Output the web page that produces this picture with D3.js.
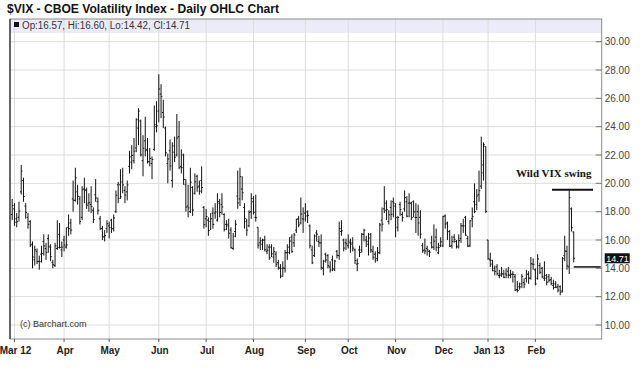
<!DOCTYPE html>
<html>
<head>
<meta charset="utf-8">
<script src="https://cdn.jsdelivr.net/npm/d3@7"></script>
<style>
  body { margin: 0; background: #fff; }
  svg { display: block; font-family: "Liberation Sans", Arial, sans-serif; }
</style>
</head>
<body>
<svg id="chart" width="640" height="375"></svg>
<script>
// daily bars: [day of month, open, high, low, close]
const feb12 = [[29, 17.8, 18.9, 17.4, 18.43]];
const mar12 = [
  [1, 18.2, 18.6, 17.0, 17.26], [2, 17.5, 17.9, 16.9, 17.29], [5, 17.6, 18.7, 17.3, 18.05],
  [6, 19.4, 21.3, 19.2, 20.87], [7, 20.2, 20.4, 18.7, 19.07], [8, 18.4, 18.6, 17.5, 17.95],
  [9, 17.6, 17.9, 16.8, 17.11], [12, 17.3, 17.4, 15.5, 15.64], [13, 15.7, 15.9, 14.0, 14.80],
  [14, 14.6, 15.6, 14.2, 15.31], [15, 15.2, 15.4, 14.3, 14.47], [16, 14.5, 14.9, 13.9, 14.47],
  [19, 15.0, 15.6, 14.4, 15.04], [20, 15.9, 16.4, 14.9, 15.58], [21, 15.4, 15.8, 14.6, 15.13],
  [22, 16.1, 16.4, 15.1, 15.57], [23, 15.5, 15.7, 14.5, 14.82], [26, 14.4, 14.6, 14.0, 14.26],
  [27, 14.2, 15.8, 14.1, 15.59], [28, 15.4, 17.4, 15.3, 15.47], [29, 16.4, 17.2, 15.4, 15.48],
  [30, 15.3, 15.9, 14.8, 15.50]
];
const apr12 = [
  [2, 16.0, 16.3, 15.2, 15.64], [3, 15.5, 16.9, 15.4, 15.66], [4, 16.9, 17.8, 16.3, 16.80],
  [5, 17.2, 17.5, 16.4, 16.70], [9, 18.9, 20.2, 18.0, 18.81], [10, 18.8, 21.1, 18.7, 20.39],
  [11, 19.4, 19.9, 18.5, 19.08], [12, 18.9, 19.1, 17.1, 17.30], [13, 17.6, 19.8, 17.4, 19.55],
  [16, 19.6, 20.4, 18.6, 19.55], [17, 19.5, 19.7, 18.2, 18.46], [18, 18.6, 19.3, 18.0, 18.64],
  [19, 18.5, 19.8, 17.9, 18.36], [20, 18.1, 18.3, 17.2, 17.44], [23, 19.2, 20.3, 18.7, 18.97],
  [24, 18.7, 19.0, 17.8, 18.10], [25, 17.5, 17.7, 16.7, 16.82], [26, 16.8, 17.0, 16.0, 16.24],
  [27, 16.2, 16.7, 15.9, 16.32], [30, 16.8, 17.4, 16.5, 17.15]
];
const may12 = [
  [1, 17.0, 17.3, 16.1, 16.88], [2, 17.4, 17.5, 16.5, 16.80], [3, 16.8, 17.8, 16.6, 17.56],
  [4, 18.0, 19.5, 17.9, 19.16], [7, 19.9, 20.1, 18.6, 18.94], [8, 19.9, 21.0, 18.9, 19.05],
  [9, 20.1, 21.1, 19.3, 19.89], [10, 19.5, 19.8, 18.6, 19.17], [11, 19.4, 20.2, 18.8, 19.89],
  [14, 21.2, 22.3, 20.7, 21.87], [15, 21.5, 22.7, 21.0, 21.97], [16, 21.6, 23.2, 21.4, 22.27],
  [17, 22.5, 24.6, 22.2, 24.49], [18, 23.9, 25.3, 22.7, 25.10], [21, 24.4, 24.5, 21.9, 22.01],
  [22, 21.6, 23.4, 20.5, 22.48], [23, 23.0, 24.7, 21.9, 22.33], [24, 22.4, 23.2, 21.4, 21.54],
  [25, 21.5, 22.5, 21.2, 21.76], [29, 21.4, 21.9, 20.3, 21.68], [30, 22.4, 25.5, 22.3, 24.14],
  [31, 24.0, 25.8, 23.6, 24.06]
];
const jun12 = [
  [1, 25.1, 27.7, 24.3, 26.66], [4, 26.3, 27.0, 24.6, 26.12], [5, 25.0, 25.9, 23.9, 24.68],
  [6, 23.9, 24.0, 21.9, 22.16], [7, 21.4, 22.1, 20.0, 21.72], [8, 22.3, 23.1, 20.9, 21.23],
  [11, 20.2, 22.9, 19.7, 22.64], [12, 22.2, 23.3, 21.5, 21.85], [13, 22.0, 24.9, 21.9, 23.20],
  [14, 23.3, 24.4, 21.0, 21.11], [15, 21.2, 22.4, 20.7, 21.11], [18, 22.0, 22.1, 19.9, 20.27],
  [19, 19.9, 20.3, 18.0, 18.32], [20, 18.4, 19.9, 17.6, 18.27], [21, 18.0, 21.1, 17.9, 20.08],
  [22, 19.7, 19.8, 17.7, 18.11], [25, 19.3, 20.7, 19.2, 20.11], [26, 20.5, 20.6, 19.4, 19.72],
  [27, 19.8, 20.2, 19.2, 19.45], [28, 20.2, 21.2, 19.3, 19.71], [29, 18.3, 18.4, 16.8, 17.08]
];
const jul12 = [
  [2, 17.5, 18.2, 16.9, 17.66], [3, 17.4, 17.6, 16.3, 16.66], [5, 17.3, 17.9, 16.7, 17.50],
  [6, 17.9, 18.3, 16.8, 17.10], [9, 17.9, 18.6, 17.5, 17.98], [10, 17.4, 19.3, 17.3, 18.72],
  [11, 18.6, 18.9, 17.6, 17.95], [12, 18.5, 19.3, 17.8, 18.33], [13, 17.8, 17.9, 16.6, 16.74],
  [16, 17.1, 17.4, 16.7, 17.11], [17, 17.0, 17.5, 16.1, 16.48], [18, 16.7, 16.9, 15.4, 15.45],
  [19, 15.4, 16.5, 15.3, 16.27], [20, 16.6, 17.4, 16.2, 17.11], [23, 19.1, 20.9, 18.2, 18.62],
  [24, 18.9, 21.1, 18.4, 20.47], [25, 19.6, 20.5, 18.8, 19.34], [26, 18.3, 18.6, 16.8, 17.53],
  [27, 17.3, 17.5, 16.3, 16.70], [30, 17.0, 18.1, 16.9, 17.94], [31, 18.0, 19.3, 17.5, 18.93]
];
const aug12 = [
  [1, 18.7, 19.1, 17.8, 17.96], [2, 17.6, 19.2, 17.3, 17.57], [3, 16.9, 16.9, 15.4, 15.64],
  [6, 15.8, 16.2, 15.3, 15.95], [7, 15.7, 16.1, 15.3, 15.99], [8, 16.0, 16.3, 15.2, 15.32],
  [9, 15.2, 15.7, 15.0, 15.28], [10, 15.5, 15.7, 14.6, 14.74], [13, 15.5, 15.7, 14.8, 15.02],
  [14, 14.8, 15.5, 14.4, 15.18], [15, 15.0, 15.2, 14.1, 14.29], [16, 14.4, 14.6, 13.9, 14.07],
  [17, 14.0, 14.3, 13.3, 13.45], [20, 14.0, 14.5, 13.4, 14.02], [21, 14.0, 15.3, 13.7, 15.10],
  [22, 15.1, 15.7, 14.6, 15.11], [23, 15.5, 16.2, 15.0, 15.93], [24, 16.2, 16.4, 15.1, 15.18],
  [27, 15.8, 16.5, 15.5, 16.35], [28, 16.7, 17.5, 16.5, 17.46], [29, 17.5, 17.7, 16.9, 17.06],
  [30, 17.2, 19.0, 17.1, 17.83], [31, 17.5, 18.3, 16.5, 17.47]
];
const sep12 = [
  [4, 17.9, 18.6, 17.3, 17.98], [5, 17.7, 18.1, 17.2, 17.74], [6, 17.0, 17.1, 15.4, 15.60],
  [7, 15.3, 15.6, 14.3, 14.38], [10, 14.9, 16.4, 14.8, 16.28], [11, 16.5, 16.7, 15.9, 16.41],
  [12, 15.9, 16.3, 15.5, 15.80], [13, 15.8, 16.4, 13.9, 14.05], [14, 14.0, 14.6, 13.5, 14.51],
  [17, 15.0, 15.1, 14.4, 14.59], [18, 14.9, 15.0, 14.0, 14.18], [19, 14.1, 14.5, 13.7, 13.88],
  [20, 14.6, 14.9, 13.8, 13.98], [21, 13.9, 14.6, 13.8, 14.51], [24, 15.2, 15.3, 14.7, 14.92],
  [25, 14.9, 17.3, 14.6, 16.81], [26, 16.6, 17.4, 16.3, 16.65], [27, 16.0, 16.1, 15.2, 15.43],
  [28, 15.8, 16.1, 15.3, 15.73]
];
const oct12 = [
  [1, 15.6, 16.4, 15.4, 15.92], [2, 15.8, 16.1, 15.1, 15.71], [3, 15.8, 16.2, 15.2, 15.43],
  [4, 15.3, 15.4, 14.3, 14.55], [5, 14.3, 14.7, 13.8, 14.33], [8, 15.3, 15.6, 14.8, 15.12],
  [9, 15.3, 16.5, 15.1, 16.41], [10, 16.4, 16.8, 15.9, 16.69], [11, 16.0, 16.3, 15.5, 15.91],
  [12, 15.7, 16.5, 14.9, 16.14], [15, 16.4, 16.5, 15.1, 15.30], [16, 15.2, 15.6, 14.6, 14.78],
  [17, 15.0, 15.2, 14.4, 14.58], [18, 14.7, 15.5, 14.5, 15.10], [19, 15.1, 17.2, 15.0, 17.06],
  [22, 17.4, 18.3, 16.6, 17.12], [23, 18.2, 19.8, 17.9, 18.60], [24, 18.1, 18.8, 17.4, 18.14],
  [25, 17.3, 18.1, 17.1, 17.78], [26, 18.3, 18.8, 17.4, 17.81], [31, 18.7, 19.0, 17.6, 18.60]
];
const nov12 = [
  [1, 18.4, 18.6, 16.2, 17.58], [2, 16.9, 17.7, 16.6, 17.59], [5, 18.5, 18.7, 17.7, 18.15],
  [6, 17.8, 18.0, 17.3, 17.58], [7, 18.2, 19.5, 18.0, 18.99], [8, 18.7, 19.1, 17.6, 17.68],
  [9, 18.6, 19.3, 17.6, 18.61], [12, 18.6, 18.7, 17.4, 17.58], [13, 18.7, 18.8, 17.6, 17.99],
  [14, 17.6, 18.6, 16.5, 17.59], [15, 18.0, 18.5, 16.3, 17.20], [16, 17.6, 18.1, 16.1, 16.41],
  [19, 15.6, 15.8, 15.1, 15.24], [20, 15.3, 16.1, 15.0, 15.22], [21, 15.4, 15.6, 14.9, 15.31],
  [23, 15.2, 15.3, 14.8, 15.14], [26, 15.8, 16.3, 15.4, 15.50], [27, 15.5, 17.1, 15.3, 15.92],
  [28, 16.2, 16.8, 15.2, 15.48], [29, 15.1, 15.8, 15.0, 15.47], [30, 15.6, 16.2, 15.5, 15.87]
];
const dec12 = [
  [3, 15.6, 17.7, 15.5, 17.67], [4, 17.7, 17.8, 16.8, 17.12], [5, 17.2, 17.3, 16.0, 16.58],
  [6, 16.6, 16.7, 15.5, 15.56], [7, 15.6, 16.3, 15.4, 15.90], [10, 16.2, 16.4, 15.8, 16.05],
  [11, 15.9, 16.0, 15.4, 15.57], [12, 15.5, 16.4, 15.4, 15.95], [13, 16.1, 17.2, 15.8, 17.00],
  [14, 17.0, 17.5, 16.5, 17.00], [17, 17.6, 17.7, 16.3, 16.34], [18, 16.1, 16.3, 15.5, 15.57],
  [19, 15.6, 17.4, 15.5, 17.36], [20, 17.5, 18.3, 16.9, 17.67], [21, 18.7, 20.0, 17.9, 18.00],
  [24, 18.5, 19.6, 18.1, 19.11], [26, 19.2, 20.9, 18.7, 19.48], [27, 19.8, 23.3, 19.6, 20.74],
  [28, 21.3, 22.9, 20.2, 22.72], [31, 22.6, 22.6, 17.9, 18.02]
];
const jan13 = [
  [2, 16.0, 16.0, 14.6, 14.68], [3, 14.6, 15.1, 14.1, 14.56], [4, 14.3, 14.6, 13.8, 13.83],
  [7, 14.0, 14.2, 13.5, 13.79], [8, 14.1, 14.3, 13.5, 13.62], [9, 13.5, 13.9, 13.3, 13.49],
  [10, 13.6, 14.1, 13.4, 13.61], [11, 13.6, 13.9, 13.3, 13.36], [14, 13.6, 14.0, 13.3, 13.52],
  [15, 13.8, 14.1, 13.3, 13.55], [16, 13.5, 13.9, 13.3, 13.57], [17, 13.6, 13.8, 13.0, 13.57],
  [18, 13.4, 13.6, 12.4, 12.46], [22, 12.5, 13.1, 12.3, 12.43], [23, 12.7, 13.0, 12.5, 12.69],
  [24, 12.9, 13.6, 12.6, 13.43], [25, 13.0, 13.3, 12.6, 12.89], [28, 13.3, 13.9, 13.0, 13.57],
  [29, 13.6, 13.8, 12.9, 13.31], [30, 13.3, 14.8, 13.2, 14.32], [31, 14.3, 14.7, 13.9, 14.28]
];
const feb13 = [
  [1, 13.9, 14.0, 12.8, 12.90], [4, 13.3, 15.0, 13.2, 14.67], [5, 14.2, 14.4, 13.6, 13.72],
  [6, 14.0, 14.1, 13.3, 13.41], [7, 13.3, 14.5, 13.1, 13.50], [8, 13.3, 13.6, 12.8, 13.02],
  [11, 13.4, 13.6, 13.0, 13.16], [12, 13.2, 13.4, 12.8, 12.94], [13, 12.8, 13.2, 12.5, 12.64],
  [14, 12.9, 13.1, 12.6, 12.66], [15, 12.7, 12.9, 12.3, 12.46], [19, 12.7, 12.8, 12.1, 12.31],
  [20, 12.4, 14.8, 12.3, 14.68], [21, 14.9, 16.3, 14.5, 15.22], [22, 15.2, 15.6, 13.9, 14.17],
  [25, 14.1, 19.5, 13.6, 18.99], [26, 18.2, 18.3, 16.6, 16.87], [27, 16.57, 16.60, 14.42, 14.71]
];

const months = [
  ["2012-02", "", feb12], ["2012-03", "Mar 12", mar12], ["2012-04", "Apr", apr12],
  ["2012-05", "May", may12], ["2012-06", "Jun", jun12], ["2012-07", "Jul", jul12],
  ["2012-08", "Aug", aug12], ["2012-09", "Sep", sep12], ["2012-10", "Oct", oct12],
  ["2012-11", "Nov", nov12], ["2012-12", "Dec", dec12], ["2013-01", "Jan 13", jan13],
  ["2013-02", "Feb", feb13]
];
const yTicks = [10, 12, 14, 16, 18, 20, 22, 24, 26, 28, 30];
const lastInfo = "Op:16.57, Hi:16.60, Lo:14.42, Cl:14.71";
const lastClose = 14.71;
const swingHigh = 19.55, swingLow = 14.1;

// flatten into one list of bars with a running trading-day index
let bars = [];
let monthStarts = [];
months.forEach(m => {
  if (m[1] != "") monthStarts.push({ label: m[1], i: bars.length });
  m[2].forEach(r => {
    bars.push({ date: m[0] + "-" + r[0], i: bars.length, o: r[1], h: r[2], l: r[3], c: r[4] });
  });
});

const svg = d3.select("#chart");
const pLeft = 10, pRight = 601.7, pTop = 19, pBottom = 339;

const x = d3.scaleLinear().domain([-0.98, 261.4]).range([pLeft, pRight]);
const y = d3.scaleLinear().domain([10, 30]).range([325, 41.7]);

// title
svg.append("text")
  .attr("x", 7).attr("y", 13)
  .attr("font-size", 12.5).attr("font-weight", "bold").attr("fill", "#111")
  .attr("textLength", 272).attr("lengthAdjust", "spacingAndGlyphs")
  .text("$VIX - CBOE Volatility Index - Daily OHLC Chart");

// info bar on top of the plot
svg.append("rect")
  .attr("x", pLeft).attr("y", pTop).attr("width", pRight - pLeft).attr("height", 14)
  .attr("fill", "#ececf8");

// grid
svg.append("g").selectAll("line").data(yTicks).join("line")
  .attr("x1", pLeft).attr("x2", pRight)
  .attr("y1", d => y(d)).attr("y2", d => y(d))
  .attr("stroke", "#dcdcdc").attr("stroke-width", 1);
svg.append("g").selectAll("line").data(monthStarts).join("line")
  .attr("x1", d => x(d.i)).attr("x2", d => x(d.i))
  .attr("y1", pTop).attr("y2", pBottom)
  .attr("stroke", "#dcdcdc").attr("stroke-width", 1);

svg.append("rect").attr("x", 14).attr("y", 22).attr("width", 5).attr("height", 5).attr("fill", "#111");
svg.append("text")
  .attr("x", 22).attr("y", 29)
  .attr("font-size", 10).attr("fill", "#333")
  .attr("textLength", 168).attr("lengthAdjust", "spacingAndGlyphs")
  .text(lastInfo);

// frame
svg.append("rect")
  .attr("x", pLeft).attr("y", pTop).attr("width", pRight - pLeft).attr("height", pBottom - pTop)
  .attr("fill", "none").attr("stroke", "#8a8a8a").attr("stroke-width", 1);
svg.append("line").attr("x1", pLeft).attr("x2", pLeft).attr("y1", pTop).attr("y2", pBottom)
  .attr("stroke", "#333").attr("stroke-width", 1.3);

// y axis on the right
svg.append("g").selectAll("line").data(yTicks).join("line")
  .attr("x1", pRight - 6).attr("x2", pRight)
  .attr("y1", d => y(d)).attr("y2", d => y(d))
  .attr("stroke", "#777");
svg.append("g").selectAll("text").data(yTicks).join("text")
  .attr("x", pRight + 3).attr("y", d => y(d) + 3.5)
  .attr("font-size", 10).attr("fill", "#444")
  .text(d => d3.format(".2f")(d));

// x axis labels
svg.append("g").selectAll("line").data(monthStarts).join("line")
  .attr("x1", d => x(d.i)).attr("x2", d => x(d.i))
  .attr("y1", pBottom).attr("y2", pBottom + 3)
  .attr("stroke", "#555");
svg.append("g").selectAll("text").data(monthStarts).join("text")
  .attr("x", d => x(d.i) + 1).attr("y", pBottom + 15)
  .attr("font-size", 10).attr("font-weight", "bold").attr("fill", "#222")
  .attr("text-anchor", "middle")
  .text(d => d.label);

// OHLC bars
svg.append("g").selectAll("path").data(bars).join("path")
  .attr("d", d => {
    let cx = x(d.i);
    return `M${cx},${y(d.h)}V${y(d.l)}M${cx - 1.3},${y(d.o)}H${cx}M${cx},${y(d.c)}H${cx + 1.3}`;
  })
  .attr("stroke", "#111").attr("stroke-width", 1).attr("fill", "none");

// last close marker
svg.append("rect")
  .attr("x", pRight + 3).attr("y", y(lastClose) - 5).attr("width", 25).attr("height", 10)
  .attr("fill", "#111");
svg.append("text")
  .attr("x", pRight + 4.5).attr("y", y(lastClose) + 3.5)
  .attr("font-size", 9).attr("fill", "#fff")
  .text(d3.format(".2f")(lastClose));

// annotation
svg.append("text")
  .attr("x", 516).attr("y", 177)
  .attr("font-family", "'Liberation Serif', 'Times New Roman', serif")
  .attr("font-size", 11).attr("font-weight", "bold").attr("fill", "#111")
  .text("Wild VIX swing");
svg.append("line")
  .attr("x1", 552).attr("x2", 593).attr("y1", y(swingHigh)).attr("y2", y(swingHigh))
  .attr("stroke", "#111").attr("stroke-width", 2);
svg.append("line")
  .attr("x1", x(bars.length - 1)).attr("x2", pRight - 1).attr("y1", y(swingLow)).attr("y2", y(swingLow))
  .attr("stroke", "#111").attr("stroke-width", 1.5);

svg.append("text")
  .attr("x", 20).attr("y", 327)
  .attr("font-size", 9).attr("fill", "#333")
  .text("(c) Barchart.com");
</script>
</body>
</html>
